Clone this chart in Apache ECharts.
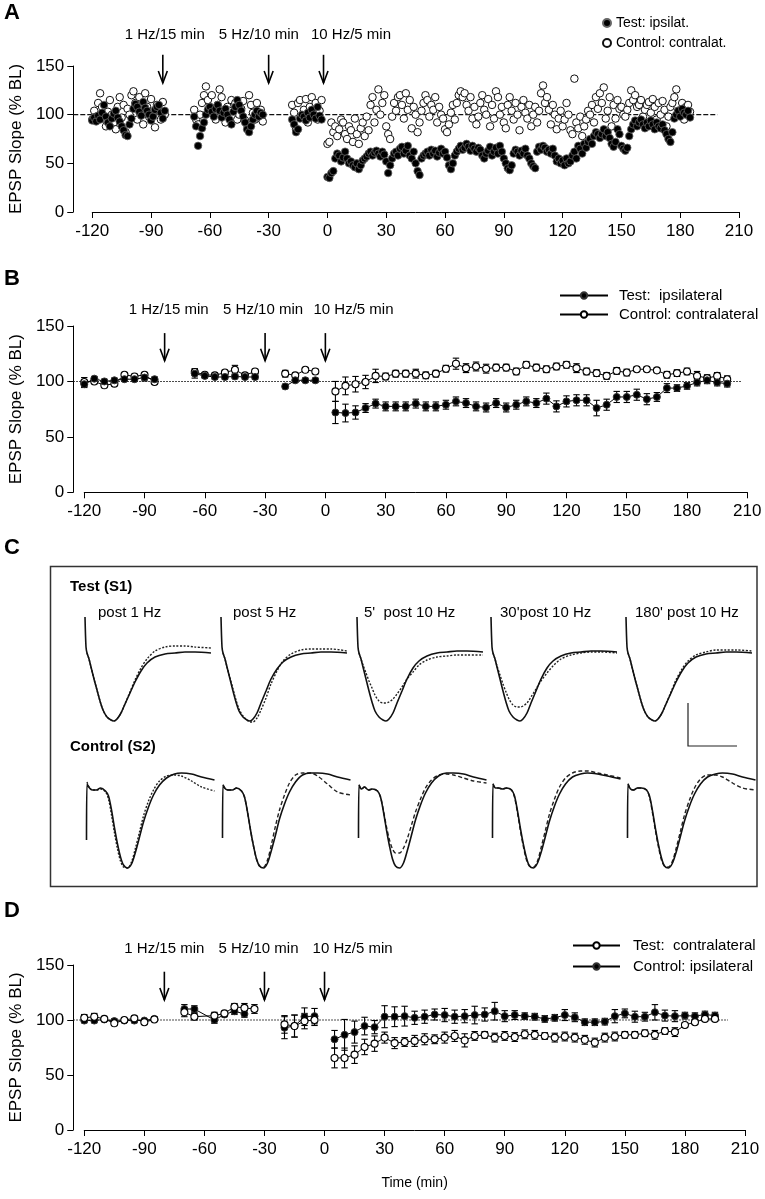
<!DOCTYPE html>
<html><head><meta charset="utf-8">
<script src="https://cdn.jsdelivr.net/npm/echarts@6/dist/echarts.min.js"></script>
<style>html,body{margin:0;padding:0;background:#fff}#c{width:765px;height:1199px}</style>
</head><body><div id="c"></div>
<script>
// ---------------- DATA ----------------
// Panel A: individual slope measurements, one value per minute per segment
const aSegStarts = [-121, -68, -18, 0];
const aTestSeg1 = [96,94,97,93,99,95,102,110,98,92,88,96,101,104,97,93,88,84,79,78,90,96,106,111,108,103,99,113,107,104,100,94,98,105,108,110,102,96,104];
const aTestSeg2 = [98,88,68,78,86,92,100,105,108,103,98,106,110,104,97,102,106,100,95,90,103,108,115,110,104,98,92,85,82,88,95,100,104,98,102,100];
const aTestSeg3 = [95,90,82,85,96,100,98,94,102,97,105,100,96,108,99,95];
const aTestSeg4 = [36,35,40,42,55,60,58,52,56,62, 55,50,52,48,46,50,44,48,53,55, 57,60,62,58,61,63,60,57,62,59,
  52,40,48,55,60,62,58,65,67,60, 63,68,58,55,62,50,42,38,55,58, 60,62,58,64,60,63,57,61,65,60,
  62,56,48,44,50,58,62,65,68,64, 66,70,67,63,68,65,62,66,64,58, 55,60,63,67,58,62,66,60,68,62,
  55,50,45,43,48,60,64,62,58,63, 60,65,58,55,50,47,45,62,67,64, 68,66,62,64,60,65,58,52,55,50,
  53,48,55,50,52,58,62,55,68,65, 60,70,66,72,75,70,78,82,80,76, 80,85,78,82,76,70,67,72,85,80,
  68,65,63,66,78,85,90,94,88,92, 95,90,86,92,88,94,90,85,92,88, 86,90,84,80,75,72,82,96,100,104,
  98,106,102,100,104,97];
const aCtrlSeg1 = [100,95,104,98,112,122,108,96,88,103,115,100,92,85,108,118,97,110,82,106,100,120,124,112,95,118,104,90,122,108,98,116,100,87,110,104,95,113,100];
const aCtrlSeg2 = [105,95,90,100,112,120,129,115,108,120,102,95,110,126,118,100,92,108,104,115,98,112,95,100,106,114,94,90,120,110,102,95,112,97,105,93];
const aCtrlSeg3 = [110,102,85,112,115,98,105,116,92,108,118,100,112,95,104,115];
const aCtrlSeg4 = [70,72,92,82,88,78,85,95,92,80, 75,88,84,72,96,80,70,86,92,78, 98,84,110,118,92,105,126,100,112,120,
  88,80,75,98,112,104,118,120,110,96, 122,105,115,86,108,100,82,92,104,112, 120,115,98,110,105,118,92,108,100,96,
  85,82,90,102,110,95,112,120,124,118, 122,110,104,118,96,108,90,98,112,120, 105,100,116,88,110,96,124,118,100,108,
  92,86,110,118,104,95,112,100,84,108, 115,102,96,110,88,100,108,92,104,122, 130,112,118,105,90,110,100,85,96,104,
  88,95,112,100,84,80,137,92,86,98, 78,88,95,104,100,110,92,118,106,122, 112,128,96,104,118,88,110,96,115,106,
  108,100,98,105,112,125,115,120,108,110, 115,98,105,110,113,102,116,108,95,112, 100,114,105,88,98,108,112,118,126,104,
  100,112,95,108,110,103];

// Panel B: averaged slopes (null = gap between recording blocks)
const bTimes = [-120,-115,-110,-105,-100,-95,-90,-85, -75, -65,-60,-55,-50,-45,-40,-35, -27, -20,-15,-10,-5, 0,
  5,10,15,20,25,30,35,40,45,50,55,60,65,70,75,80,85,90,95,100,105,110,115,120,125,130,135,140,145,150,155,160,165,170,175,180,185,190,195,200];
const bTest = [97.5,102.5,100,101,102,102,103.5,102, null, 107,105,104,104,104.5,104,104, null, 95.5,101,101,101, null,
  72,71.5,72,76,80,77.5,77.5,77.5,80,77.5,77.5,79,82,80.5,77.5,76.5,80.5,76.5,79,82,80.5,84.5,77.5,82,83,83,76,79,86,86,88,84,86,94,94,96,99,101,99,98];
const bTestErr = [3,2,2,2,2,2,3,2, null, 4,2,2,2,2,2,2, null, 2,2,2,2, null,
  10,8,6,4,4,4,4,4,4,4,4,4,4,4,4,4,4,4,4,4,4,5,5,5,5,5,7,5,5,5,5,5,4,4,3,3,3,3,3,3];
const bCtrl = [99.5,100,96.5,98,106,104.5,106,99.5, null, 108.5,106,105.5,108,110.5,105.5,109, null, 107,105.5,110.5,109, null,
  91,96,97.5,99.5,105,104.5,107,107,107,105.5,107,111.5,116,112,113.5,111.5,112.5,112.5,109,115,112.5,111,113.5,115,112,109,107.5,105,109.5,108,111,111,110,106,107.5,109,105,103,105,102];
const bCtrlErr = [4,2,2,2,2,2,2,2, null, 3,2,2,2,4,2,2, null, 3,2,2,2, null,
  9,8,7,6,6,3,3,3,4,3,3,3,5,4,4,4,3,3,3,3,3,3,3,3,4,3,3,3,3,3,2,2,2,3,3,3,4,3,3,3];

// Panel D
const dTimes = [-120,-115,-110,-105,-100,-95,-90,-85, -77, -70,-65,-55,-50,-45,-40,-35, -27, -20,-15,-10,-5, 0,
  5,10,15,20,25,30,35,40,45,50,55,60,65,70,75,80,85,90,95,100,105,110,115,120,125,130,135,140,145,150,155,160,165,170,175,180,185,190,195];
const dTest = [102,103,101,97,100,101.5,98,100.5, null, 107,103,104,106,112,111,110, null, 96,94.5,99,100, null,
  65.5,65.5,68.5,75.5,78.5,84,79,80,81,82.5,82.5,84,85.5,81.5,85.5,86.5,84,85.5,84.5,87,86.5,85.5,84,85,84,82,79.5,84,85,86.5,86.5,88,86.5,90,89,95.5,98,101,101];
const dTestErr = [3,3,1,2,1,2,2,1, null, 4,3,3,2,3,4,4, null, 8,10,7,5, null,
  9,9,8,7,7,5,5,4,5,5,4,5,5,6,4,3,4,4,4,4,4,3,4,4,4,4,4,4,4,3,3,3,4,3,4,2,2,2,2];
const dCtrl = [99.5,99.5,100.5,99,99.5,99.5,99.5,101, null, 110,110,100,105,108,105.5,null, null, 93,94.5,103,103.5, null,
  82.5,86.5,89,94.5,93.5,103,103,103.5,102,103,105,104.5,103,103.5,104.5,105,108,103.5,104.5,103.5,103,101,102,104.5,102.5,98,98,98.5,103.5,106,103,103,107,104,103.5,104,103.5,105,104];
const dCtrlErr = [2,2,1,2,1,2,1,2, null, 4,3,3,2,3,3,null, null, 10,10,8,7, null,
  8,14,10,8,6,10,9,9,6,6,5,6,6,6,8,6,8,5,4,3,3,3,3,5,4,3,3,3,6,4,5,4,7,5,5,3,3,3,3];

// Stimulation annotations
const stimNames = ['1 Hz/15 min', '5 Hz/10 min', '10 Hz/5 min'];
const aArrowTimes = [-84, -30, -2];
const bArrowTimes = [-80, -30, 0];
const dArrowTimes = [-80, -30, 0];
const aLabelTimes = [-83, -35, 12];
const bLabelTimes = [-78, -31, 14];
const dLabelTimes = [-80, -33, 14];
const xTicks = [-120, -90, -60, -30, 0, 30, 60, 90, 120, 150, 180, 210];
const yTicks = [0, 50, 100, 150];

// Panel C: EPSP traces (sample time, amplitude in arbitrary units)
const cLabels = ['post 1 Hz', 'post 5 Hz', "5'  post 10 Hz", "30'post 10 Hz", "180' post 10 Hz"];
const tX = [0,1,2,4,6,9,12,15,18,22,26,29,32,36,40,45,50,56,62,70,80,90,100,110,126];
const testSolid = [
  [0,-30,-36,-42,-50,-62,-73,-84,-93,-100,-103,-104,-102,-96,-87,-76,-65,-54,-46,-40,-37,-36,-35,-35,-36],
  [0,-30,-36,-42,-50,-62,-74,-85,-94,-100,-103,-104,-102,-96,-86,-74,-62,-52,-45,-40,-37,-36,-35,-35,-36],
  [0,-30,-36,-42,-50,-62,-74,-85,-94,-100,-103,-104,-102,-96,-86,-74,-62,-51,-44,-39,-36,-35,-34,-34,-35],
  [0,-30,-36,-42,-50,-62,-74,-85,-94,-100,-103,-104,-102,-96,-86,-74,-62,-51,-44,-39,-36,-35,-34,-34,-35],
  [0,-30,-36,-42,-50,-62,-73,-84,-93,-100,-103,-104,-102,-96,-87,-76,-65,-54,-46,-40,-37,-36,-35,-35,-36]
];
const testDotted = [
  [null,null,-36,-42,-50,-62,-73,-84,-93,-100,-103,-104,-102,-96,-87,-75,-63,-51,-42,-34,-30,-29,-29,-30,-31],
  [null,null,-36,-42,-50,-61,-72,-83,-92,-99,-103,-105,-105,-101,-93,-81,-67,-54,-44,-37,-33,-32,-32,-32,-34],
  [null,null,-36,-42,-48,-56,-64,-71,-78,-84,-86,-86,-85,-82,-77,-70,-62,-55,-48,-43,-40,-39,-38,-38,-38],
  [null,null,-36,-42,-49,-58,-67,-75,-82,-88,-90,-90,-89,-86,-80,-72,-64,-56,-49,-42,-38,-36,-35,-35,-36],
  [null,null,-36,-42,-50,-62,-73,-84,-93,-100,-103,-104,-102,-96,-87,-75,-63,-52,-44,-38,-35,-33,-33,-33,-34]
];
const cX = [0,0.5,3,6,10,14,19,22,25,28,31,34,37,41,45,49,53,57,62,67,73,80,88,95,105,115,128];
const ctrlSolid = [
  [-70,-14,-18,-20,-20,-18,-21,-26,-40,-58,-74,-87,-95,-98,-94,-82,-67,-52,-37,-25,-15,-8,-4,-3,-4,-7,-10],
  [-68,-15,-19,-20,-20,-18,-21,-27,-42,-60,-76,-89,-96,-98,-93,-80,-65,-49,-34,-22,-12,-5,-3,-3,-4,-7,-10],
  [-68,-15,-19,-17,-20,-19,-21,-27,-42,-60,-76,-89,-96,-98,-93,-80,-65,-50,-35,-23,-13,-6,-3,-3,-4,-7,-10],
  [-68,-14,-18,-18,-19,-18,-20,-26,-41,-59,-75,-88,-96,-98,-93,-81,-66,-51,-36,-24,-14,-7,-4,-3,-4,-6,-9],
  [-68,-14,-19,-20,-18,-18,-20,-26,-41,-59,-75,-88,-96,-98,-93,-81,-66,-51,-36,-24,-14,-7,-4,-3,-4,-7,-10]
];
const ctrlDashed = [
  [null,-12,-18,-20,-20,-19,-22,-29,-45,-63,-79,-91,-97,-98,-92,-78,-62,-46,-31,-20,-11,-6,-5,-6,-11,-17,-21],
  [null,-15,-19,-20,-20,-18,-21,-27,-42,-60,-76,-89,-96,-97,-90,-74,-56,-40,-25,-13,-5,-3,-3,-6,-14,-22,-25],
  [null,-15,-19,-17,-20,-19,-21,-27,-41,-57,-70,-79,-83,-83,-78,-68,-55,-42,-29,-18,-10,-5,-4,-5,-8,-11,-13],
  [null,-14,-18,-18,-19,-18,-20,-27,-43,-61,-77,-90,-96,-97,-91,-76,-60,-44,-29,-17,-8,-3,-1,-1,-3,-5,-8],
  [null,-14,-19,-20,-18,-18,-20,-27,-43,-61,-77,-90,-96,-97,-91,-77,-61,-45,-30,-18,-9,-5,-5,-7,-13,-18,-20]
];

// ---------------- LAYOUT / STYLE ----------------
const FF = '"Liberation Sans", Arial, Helvetica, sans-serif';
const BLACK = '#000';
const mainGrids = [
  {left: 91, width: 648, top: 66, height: 146, yOff: 19},
  {left: 82.7, width: 664.6, top: 326, height: 166.3, yOff: 11},
  {left: 83, width: 662, top: 965, height: 165, yOff: 11}
];
const cLefts = [85, 221, 357, 491, 626];

function segPairs(starts, segs) {
  const out = [];
  segs.forEach((s, k) => s.forEach((v, i) => out.push([starts[k] + i, v])));
  return out;
}
function pairs(xs, ys) { return xs.map((x, i) => [x, ys[i]]); }
function errData(xs, ys, es) {
  const out = [];
  xs.forEach((x, i) => { if (ys[i] != null && es[i] != null) out.push([x, ys[i], es[i]]); });
  return out;
}

const grids = [], xAxes = [], yAxes = [], series = [];
mainGrids.forEach((g, i) => {
  grids.push({left: g.left, top: g.top, width: g.width, height: g.height, containLabel: false});
  xAxes.push({
    gridIndex: i, type: 'value', min: xTicks[0], max: xTicks[xTicks.length - 1], interval: 30,
    axisLine: {show: true, onZero: false, lineStyle: {color: BLACK, width: 1}},
    axisTick: {show: true, length: 6, lineStyle: {color: BLACK, width: 1}},
    axisLabel: {color: BLACK, fontSize: 17, fontFamily: FF, margin: 11},
    splitLine: {show: false},
    name: i === 2 ? 'Time (min)' : '', nameLocation: 'middle', nameGap: 46,
    nameTextStyle: {color: BLACK, fontSize: 14, fontFamily: FF}
  });
  yAxes.push({
    gridIndex: i, type: 'value', min: yTicks[0], max: yTicks[yTicks.length - 1], interval: 50, offset: g.yOff,
    axisLine: {show: true, onZero: false, lineStyle: {color: BLACK, width: 1}},
    axisTick: {show: true, length: 6, lineStyle: {color: BLACK, width: 1}},
    axisLabel: {color: BLACK, fontSize: 17, fontFamily: FF, margin: 9},
    splitLine: {show: false},
    name: 'EPSP Slope (% BL)', nameLocation: 'middle', nameGap: 47,
    nameTextStyle: {color: BLACK, fontSize: 17, fontFamily: FF}
  });
});
// Panel C grids
for (let k = 0; k < 5; k++) {
  grids.push({left: cLefts[k], top: 617, width: 128, height: 106});
  xAxes.push({gridIndex: grids.length - 1, type: 'value', min: 0, max: 128, show: false});
  yAxes.push({gridIndex: grids.length - 1, type: 'value', min: -106, max: 0, show: false});
}
for (let k = 0; k < 5; k++) {
  grids.push({left: cLefts[k] + 1.5, top: 770, width: 128, height: 100});
  xAxes.push({gridIndex: grids.length - 1, type: 'value', min: 0, max: 128, show: false});
  yAxes.push({gridIndex: grids.length - 1, type: 'value', min: -100, max: 0, show: false});
}

// reference line at 100% from the y axis to endX
function refLine(ax, yOff, endX, dash) {
  return {
    type: 'custom', xAxisIndex: ax, yAxisIndex: ax, silent: true, z: 1, clip: false,
    data: [[endX, 100]], encode: {x: 0, y: 1},
    renderItem: function (params, api) {
      const p = api.coord([api.value(0), api.value(1)]);
      return {type: 'line', shape: {x1: params.coordSys.x - yOff, y1: p[1], x2: p[0], y2: p[1]},
        style: {stroke: '#111', lineWidth: 1.1, lineDash: dash}};
    }
  };
}
function arrows(ax, times, yTop, yBot) {
  return {
    type: 'custom', xAxisIndex: ax, yAxisIndex: ax, silent: true, clip: false, z: 5,
    data: times.map(t => [t, yTop, yBot]), encode: {x: 0, y: [1, 2]},
    renderItem: function (params, api) {
      const t = api.value(0);
      const a = api.coord([t, api.value(1)]), b = api.coord([t, api.value(2)]);
      const st = {stroke: BLACK, lineWidth: 1.6, fill: null};
      return {type: 'group', children: [
        {type: 'line', shape: {x1: a[0], y1: a[1], x2: b[0], y2: b[1]}, style: st},
        {type: 'polyline', shape: {points: [[b[0] - 4.5, b[1] - 12], [b[0], b[1]], [b[0] + 4.5, b[1] - 12]]}, style: st}
      ]};
    }
  };
}
function stimText(ax, times, yv) {
  return {
    type: 'custom', xAxisIndex: ax, yAxisIndex: ax, silent: true, clip: false, z: 5,
    data: times.map(t => [t, yv]), encode: {x: 0, y: 1},
    renderItem: function (params, api) {
      const p = api.coord([api.value(0), api.value(1)]);
      return {type: 'text', x: p[0], y: p[1], style: {text: stimNames[params.dataIndex], align: 'center', verticalAlign: 'middle',
        fontSize: 15, fontFamily: FF, fill: BLACK}};
    }
  };
}
function errBars(ax, data) {
  return {
    type: 'custom', xAxisIndex: ax, yAxisIndex: ax, silent: true, z: 2, clip: false,
    data: data, encode: {x: 0, y: [1]},
    renderItem: function (params, api) {
      const x = api.value(0), y = api.value(1), e = api.value(2);
      const hi = api.coord([x, y + e]), lo = api.coord([x, y - e]);
      const w = 3.2, st = {stroke: BLACK, lineWidth: 1.1};
      return {type: 'group', children: [
        {type: 'line', shape: {x1: hi[0], y1: hi[1], x2: lo[0], y2: lo[1]}, style: st},
        {type: 'line', shape: {x1: hi[0] - w, y1: hi[1], x2: hi[0] + w, y2: hi[1]}, style: st},
        {type: 'line', shape: {x1: lo[0] - w, y1: lo[1], x2: lo[0] + w, y2: lo[1]}, style: st}
      ]};
    }
  };
}
const openItem = {color: '#fff', borderColor: BLACK, borderWidth: 1.1, opacity: 1};
const fillItem = {color: '#000', borderColor: '#333', borderWidth: 1, opacity: 1};

// Panel A
series.push(refLine(0, 19, 199, [5, 2]));
series.push({name: 'Control: contralat.', type: 'scatter', xAxisIndex: 0, yAxisIndex: 0, symbol: 'circle', symbolSize: 7.5,
  data: segPairs(aSegStarts, [aCtrlSeg1, aCtrlSeg2, aCtrlSeg3, aCtrlSeg4]), itemStyle: {color: '#fff', borderColor: '#111', borderWidth: 1, opacity: 1}, z: 3});
series.push({name: 'Test: ipsilat.', type: 'scatter', xAxisIndex: 0, yAxisIndex: 0, symbol: 'circle', symbolSize: 7.5,
  data: segPairs(aSegStarts, [aTestSeg1, aTestSeg2, aTestSeg3, aTestSeg4]), itemStyle: {color: '#000', borderColor: '#666', borderWidth: 0.8, opacity: 1}, z: 4});
series.push(arrows(0, aArrowTimes, 161.5, 132.5));
series.push(stimText(0, aLabelTimes, 182));

// Panel B
series.push(refLine(1, 11, 207, [1.5, 1.5]));
series.push(errBars(1, errData(bTimes, bCtrl, bCtrlErr)));
series.push(errBars(1, errData(bTimes, bTest, bTestErr)));
series.push({name: 'Control: contralateral', type: 'line', xAxisIndex: 1, yAxisIndex: 1, data: pairs(bTimes, bCtrl),
  symbol: 'circle', symbolSize: 7, showSymbol: true, lineStyle: {color: BLACK, width: 1}, itemStyle: openItem, z: 3});
series.push({name: 'Test:  ipsilateral', type: 'line', xAxisIndex: 1, yAxisIndex: 1, data: pairs(bTimes, bTest),
  symbol: 'circle', symbolSize: 7, showSymbol: true, lineStyle: {color: BLACK, width: 1}, itemStyle: fillItem, z: 4});
series.push(arrows(1, bArrowTimes, 143.6, 118.7));
series.push(stimText(1, bLabelTimes, 164.4));

// Panel D
series.push(refLine(2, 11, 201.5, [1.5, 1.5]));
series.push(errBars(2, errData(dTimes, dCtrl, dCtrlErr)));
series.push(errBars(2, errData(dTimes, dTest, dTestErr)));
series.push({name: 'Control: ipsilateral', type: 'line', xAxisIndex: 2, yAxisIndex: 2, data: pairs(dTimes, dCtrl),
  symbol: 'circle', symbolSize: 7, showSymbol: true, lineStyle: {color: BLACK, width: 1}, itemStyle: fillItem, z: 3});
series.push({name: 'Test:  contralateral', type: 'line', xAxisIndex: 2, yAxisIndex: 2, data: pairs(dTimes, dTest),
  symbol: 'circle', symbolSize: 7, showSymbol: true, lineStyle: {color: BLACK, width: 1}, itemStyle: openItem, z: 4});
series.push(arrows(2, dArrowTimes, 143.9, 118.2));
series.push(stimText(2, dLabelTimes, 164.5));

// Panel C traces
for (let k = 0; k < 5; k++) {
  const ti = 3 + k, ci = 8 + k;
  series.push({type: 'line', xAxisIndex: ti, yAxisIndex: ti, data: pairs(tX, testDotted[k]), showSymbol: false, symbol: 'none',
    lineStyle: {color: '#222', width: 1.4, type: [2, 1.6]}, smooth: 0.3, silent: true, z: 3});
  series.push({type: 'line', xAxisIndex: ti, yAxisIndex: ti, data: pairs(tX, testSolid[k]), showSymbol: false, symbol: 'none',
    lineStyle: {color: '#111', width: 1.6}, smooth: 0.3, silent: true, z: 4});
  series.push({type: 'line', xAxisIndex: ci, yAxisIndex: ci, data: pairs(cX, ctrlDashed[k]), showSymbol: false, symbol: 'none',
    lineStyle: {color: '#222', width: 1.4, type: k === 0 ? [2, 1.6] : [4, 2.5]}, smooth: 0.3, silent: true, z: 3});
  series.push({type: 'line', xAxisIndex: ci, yAxisIndex: ci, data: pairs(cX, ctrlSolid[k]), showSymbol: false, symbol: 'none',
    lineStyle: {color: '#111', width: 1.6}, smooth: 0.3, silent: true, z: 4});
}

// static text / frames
const graphic = [
  {type: 'text', x: 4, y: 2, style: {text: 'A', font: 'bold 22px ' + FF, fill: BLACK}},
  {type: 'text', x: 4, y: 268, style: {text: 'B', font: 'bold 22px ' + FF, fill: BLACK}},
  {type: 'text', x: 4, y: 537, style: {text: 'C', font: 'bold 22px ' + FF, fill: BLACK}},
  {type: 'text', x: 4, y: 900, style: {text: 'D', font: 'bold 22px ' + FF, fill: BLACK}},
  {type: 'rect', shape: {x: 50.5, y: 566.5, width: 706.5, height: 320}, style: {fill: null, stroke: '#333', lineWidth: 1.5}},
  {type: 'text', x: 70, y: 587, style: {text: 'Test (S1)', font: 'bold 15px ' + FF, fill: BLACK, verticalAlign: 'middle'}},
  {type: 'text', x: 70, y: 747, style: {text: 'Control (S2)', font: 'bold 15px ' + FF, fill: BLACK, verticalAlign: 'middle'}},
  {type: 'polyline', shape: {points: [[688, 703], [688, 746], [737, 746]]}, style: {fill: null, stroke: '#222', lineWidth: 1.2}}
];
const labelLefts = [98, 233, 364, 500, 635];
cLabels.forEach((t, k) => graphic.push({type: 'text', x: labelLefts[k], y: 613,
  style: {text: t, font: '15px ' + FF, fill: BLACK, verticalAlign: 'middle'}}));

const legendText = {color: BLACK, fontFamily: FF};
const option = {
  animation: false,
  backgroundColor: '#fff',
  grid: grids, xAxis: xAxes, yAxis: yAxes, series: series, graphic: graphic,
  legend: [
    {data: ['Test: ipsilat.', 'Control: contralat.'], orient: 'vertical', left: 602, top: 16, itemWidth: 8, itemHeight: 8,
      itemGap: 6, selectedMode: false, padding: 0, textStyle: Object.assign({fontSize: 14}, legendText)},
    {data: ['Test:  ipsilateral', 'Control: contralateral'], orient: 'vertical', left: 559, top: 288, itemWidth: 48, itemHeight: 8,
      itemGap: 4, selectedMode: false, padding: 0, textStyle: Object.assign({fontSize: 15, padding: [0, 0, 0, 6]}, legendText)},
    {data: ['Test:  contralateral', 'Control: ipsilateral'], orient: 'vertical', left: 572, top: 938, itemWidth: 47, itemHeight: 8,
      itemGap: 6, selectedMode: false, padding: 0, textStyle: Object.assign({fontSize: 15, padding: [0, 0, 0, 8]}, legendText)}
  ]
};
const chart = echarts.init(document.getElementById('c'), null, {renderer: 'canvas'});
chart.setOption(option);
</script></body></html>
